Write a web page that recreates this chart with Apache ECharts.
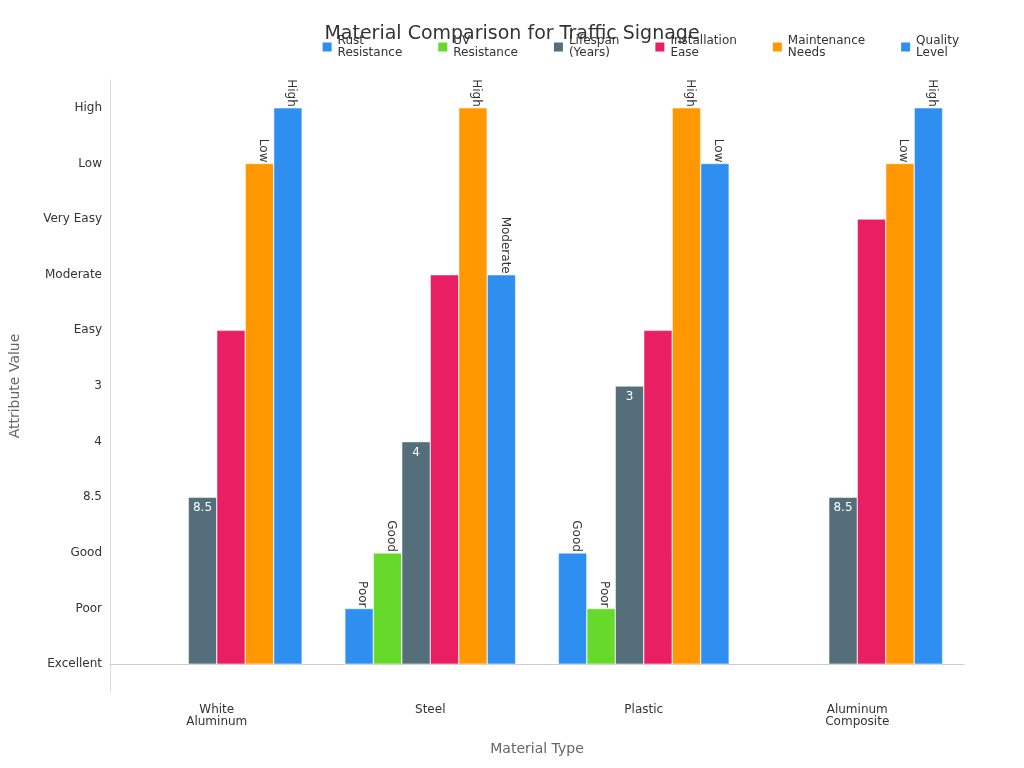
<!DOCTYPE html>
<html><head><meta charset="utf-8">
<script src="https://cdn.jsdelivr.net/npm/echarts@6/dist/echarts.min.js"></script>
<style>body{margin:0}#main{width:1024px;height:768px}</style>
</head><body><div id="main"></div>
<script>
var materials = ['White\nAluminum', 'Steel', 'Plastic', 'Aluminum\nComposite'];
var levels = ['Excellent', 'Poor', 'Good', '8.5', '4', '3', 'Easy', 'Moderate', 'Very Easy', 'Low', 'High'];
var seriesNames = ['Rust\nResistance', 'UV\nResistance', 'Lifespan\n(Years)', 'Installation\nEase', 'Maintenance\nNeeds', 'Quality\nLevel'];
var colors = ['#2f8ff0', '#66d92a', '#546e7a', '#e91e63', '#ff9800', '#2f8ff0'];
// level index per material
var rust = [null, 1, 2, null];
var uv = [null, 2, 1, null];
var lifespan = [3, 4, 5, 3];
var install = [6, 7, 6, 8];
var maintenance = [9, 10, 10, 9];
var quality = [10, 7, 9, 10];
var allData = [rust, uv, lifespan, install, maintenance, quality];
var labelColors = ['#333', '#333', '#fff', '#fff', '#333', '#333'];

var myChart = echarts.init(document.getElementById('main'));
var series = [];
for (var s = 0; s < allData.length; s++) {
    var numeric = s == 2;
    series.push({
        name: seriesNames[s],
        type: 'bar',
        yAxisIndex: 1,
        barGap: '0%',
        barCategoryGap: '20%',
        data: allData[s],
        itemStyle: { color: colors[s], borderColor: '#fff', borderWidth: 0.5 },
        label: {
            show: true,
            position: numeric ? 'insideTop' : 'insideTopRight',
            rotate: numeric ? 0 : -90,
            distance: 5,
            offset: numeric ? [0, 0] : [-6, 0],
            color: labelColors[s],
            fontSize: 12,
            formatter: function (p) { return levels[p.value]; }
        }
    });
}
var option = {
    textStyle: { fontFamily: 'DejaVu Sans' },
    title: { text: 'Material Comparison for Traffic Signage', left: 'center', top: 20,
        textStyle: { fontSize: 19, fontWeight: 'normal', color: '#333' } },
    legend: { top: 30, right: 60, itemWidth: 11, itemHeight: 11, itemGap: 34,
        icon: 'rect', textStyle: { fontSize: 12, color: '#333' } },
    grid: { left: 102, right: 60, top: 80, bottom: 76 },
    xAxis: {
        type: 'category', data: materials, name: 'Material Type', nameLocation: 'middle', nameGap: 50,
        nameTextStyle: { fontSize: 14, color: '#666' },
        axisLine: { lineStyle: { color: '#ccc' } }, axisTick: { show: false },
        axisLabel: { color: '#333', fontSize: 12, margin: 12 }
    },
    yAxis: [{
        type: 'category', data: levels, name: 'Attribute Value', nameLocation: 'middle', nameGap: 88,
        nameTextStyle: { fontSize: 14, color: '#666' },
        axisLine: { lineStyle: { color: '#ddd' } }, axisTick: { alignWithLabel: true, lineStyle: { color: '#333' } },
        axisLabel: { color: '#333', fontSize: 12 }
    }, {
        type: 'value', min: -0.5, max: 10.5, show: false
    }],
    series: series
};
myChart.setOption(option);
</script></body></html>
